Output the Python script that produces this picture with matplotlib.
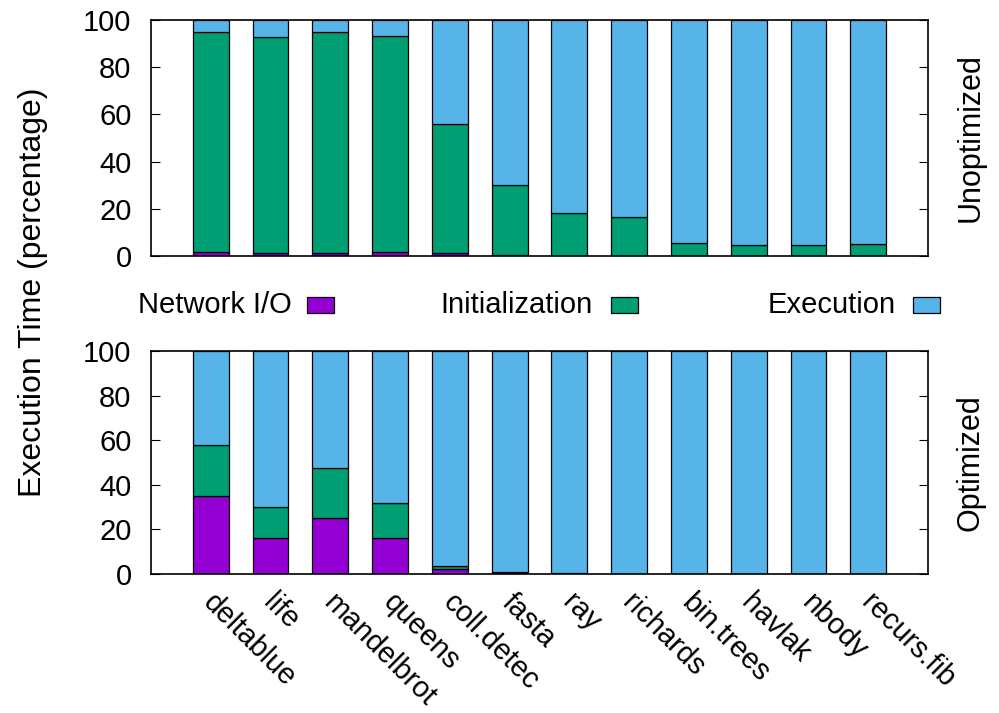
import matplotlib
matplotlib.use("Agg")
import matplotlib.pyplot as plt
from matplotlib.patches import Rectangle
from matplotlib.transforms import ScaledTranslation
import numpy as np

plt.rcParams["font.family"] = ["Liberation Sans", "DejaVu Sans"]

benchmarks = ["deltablue", "life", "mandelbrot", "queens", "coll.detec", "fasta",
              "ray", "richards", "bin.trees", "havlak", "nbody", "recurs.fib"]

# Unoptimized (percent)
unopt_net = [1.5, 1.1, 1.1, 1.5, 1.1, 0.3, 0.0, 0.0, 0.0, 0.0, 0.0, 0.0]
unopt_init = [93.5, 91.6, 93.9, 91.6, 54.8, 29.8, 18.1, 16.7, 5.5, 4.7, 4.7, 5.2]

# Optimized (percent)
opt_net = [35.0, 16.0, 25.3, 16.1, 2.2, 0.5, 0.3, 0.2, 0.0, 0.0, 0.0, 0.0]
opt_init = [22.8, 13.9, 22.4, 15.6, 1.2, 0.2, 0.0, 0.0, 0.0, 0.0, 0.0, 0.0]

series_names = ["Network I/O", "Initialization", "Execution"]
colors = ["#9400d3", "#009e73", "#56b4e9"]
FS = 21

fig = plt.figure(figsize=(9.99, 7.13), dpi=100)
W, H = 999, 713


def px_axes(l, t, r, b):
    return fig.add_axes([l / W, 1 - b / H, (r - l) / W, (b - t) / H])


def panel(ax, net, init, side_label):
    x = np.arange(1, len(benchmarks) + 1)
    net = np.array(net); init = np.array(init)
    exe = 100 - net - init
    kw = dict(width=0.6, edgecolor="black", linewidth=0.9, zorder=2)
    ax.bar(x, net, color=colors[0], **kw)
    ax.bar(x, init, bottom=net, color=colors[1], **kw)
    ax.bar(x, exe, bottom=net + init, color=colors[2], **kw)
    ax.set_xlim(0, 13)
    ax.set_ylim(0, 100)
    ax.set_yticks(range(0, 101, 20))
    ax.tick_params(axis="y", direction="in", length=6.5, width=0.8,
                   labelsize=FS, pad=14, right=True)
    ax.set_xticks(x)
    ax.tick_params(axis="x", length=0)
    for s in ax.spines.values():
        s.set_linewidth(1.2)
    ax.text(1.055, 0.5, side_label, transform=ax.transAxes, rotation=90,
            ha="center", va="center", fontsize=22)


ax1 = px_axes(151, 20, 928, 256)
panel(ax1, unopt_net, unopt_init, "Unoptimized")
ax1.set_xticklabels([])

ax2 = px_axes(151, 351, 928, 574)
panel(ax2, opt_net, opt_init, "Optimized")
ax2.set_xticklabels(benchmarks, rotation=-45, ha="left", va="top",
                    rotation_mode="anchor", fontsize=FS)
ax2.tick_params(axis="x", pad=9)
shift = ScaledTranslation(7 / 100, -2 / 100, fig.dpi_scale_trans)
for lab in ax2.get_xticklabels():
    lab.set_transform(lab.get_transform() + shift)

fig.text(33 / W, 1 - 292 / H, "Execution Time (percentage)", rotation=90,
         ha="center", va="center", fontsize=23)

# legend between panels: text right-aligned, then colour box
text_right = [292, 593, 896]
box_left = [307, 611, 913]
for name, c, tr, bl in zip(series_names, colors, text_right, box_left):
    fig.text(tr / W, 1 - 305 / H, name, ha="right", va="center", fontsize=FS)
    fig.add_artist(Rectangle((bl / W, 1 - 313 / H), 27 / W, 16 / H,
                             transform=fig.transFigure, facecolor=c,
                             edgecolor="black", linewidth=0.9))

fig.savefig("out.png", dpi=100)
